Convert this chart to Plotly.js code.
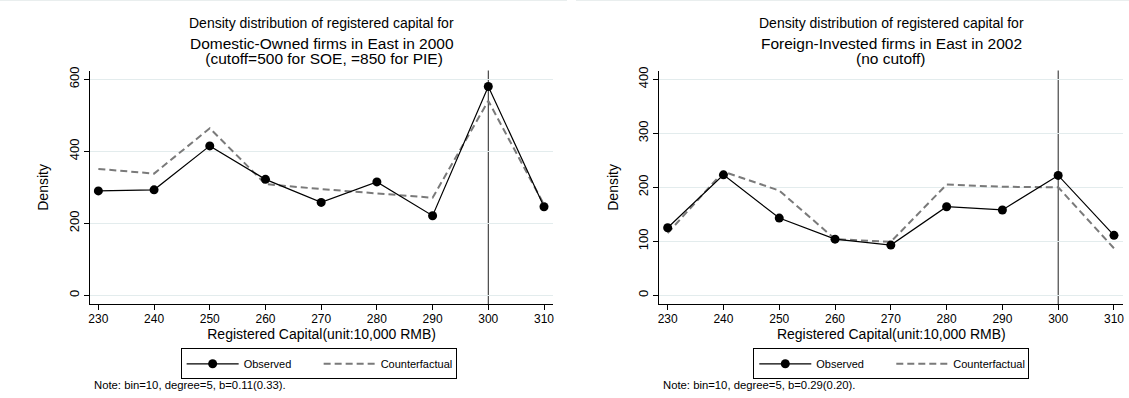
<!DOCTYPE html>
<html>
<head>
<meta charset="utf-8">
<script src="https://cdn.plot.ly/plotly-3.0.1.min.js"></script>
<style>
html,body{margin:0;padding:0;background:#fff;}
#chart{width:1129px;height:398px;}
</style>
</head>
<body>
<div id="chart"></div>
<script>
// ---- data ----
const capitalBins = [230, 240, 250, 260, 270, 280, 290, 300, 310];
const xTickVals = [230, 240, 250, 260, 270, 280, 290, 300, 310];
const cutoffValue = 300;

const domesticObserved = [290, 293, 415, 322, 258, 315, 221, 580, 246];
const domesticCounterfactual = [351, 338, 464, 309, 295, 283, 271, 540, 252];

const foreignObserved = [125, 223, 143, 104, 93, 164, 158, 222, 111];
const foreignCounterfactual = [115, 229, 194, 104, 99, 205, 201, 200, 87];

const leftYTicks = [0, 200, 400, 600];
const rightYTicks = [0, 100, 200, 300, 400];

const leftTitleLines = ["Density distribution of registered capital for",
  "Domestic-Owned firms in East in 2000", " (cutoff=500 for SOE, =850 for PIE)"];
const rightTitleLines = ["Density distribution of registered capital for",
  "Foreign-Invested firms in East in 2002", "(no cutoff)"];
const leftNote = "Note: bin=10, degree=5, b=0.11(0.33).";
const rightNote = "Note: bin=10, degree=5, b=0.29(0.20).";
const xTitle = "Registered Capital(unit:10,000 RMB)";
const yTitle = "Density";
const seriesNames = ["Observed", "Counterfactual"];

// ---- styling ----
const FONT = "Liberation Sans, Arial, Helvetica, sans-serif";
const W = 1129, H = 398;
const px = v => v / W;          // horizontal pixel -> paper
const py = v => 1 - v / H;      // vertical pixel -> paper
const leftDom = [px(90), px(553.3)];
const rightDom = [px(659.3), px(1123.3)];
const yDom = [py(304.3), py(70.5)];
const gridCol = "#e3eced";
const dashCol = "#7a7a7a";

function obsTrace(y, xa, ya, leg, show) {
  return {x: capitalBins, y: y, xaxis: xa, yaxis: ya, type: "scatter", mode: "lines+markers",
    name: seriesNames[0], legend: leg, showlegend: show,
    line: {color: "#000", width: 1.2}, marker: {color: "#000", size: 9}};
}
function cfTrace(y, xa, ya, leg, show) {
  return {x: capitalBins, y: y, xaxis: xa, yaxis: ya, type: "scatter", mode: "lines",
    name: seriesNames[1], legend: leg, showlegend: show,
    line: {color: dashCol, width: 2, dash: "7px,4px"}};
}

const traces = [
  cfTrace(domesticCounterfactual, "x", "y", "legend", true),
  obsTrace(domesticObserved, "x", "y", "legend", true),
  cfTrace(foreignCounterfactual, "x2", "y2", "legend2", true),
  obsTrace(foreignObserved, "x2", "y2", "legend2", true)
];

function xAxis(dom, anchor) {
  return {domain: dom, anchor: anchor, range: [228.5, 311.67], tickvals: xTickVals,
    showgrid: false, zeroline: false, showline: true, linecolor: "#000", linewidth: 1,
    ticks: "outside", ticklen: 5, tickcolor: "#000", tickwidth: 1, ticklabelstandoff: -2,
    tickfont: {family: FONT, size: 12, color: "#000"},
    title: {text: xTitle, font: {family: FONT, size: 14, color: "#000"}, standoff: 0},
    automargin: false, fixedrange: true};
}
function yAxis(range, ticks, anchor) {
  return {domain: yDom, anchor: anchor, range: range, tickvals: ticks,
    showgrid: true, gridcolor: gridCol, gridwidth: 1, zeroline: false,
    showline: true, linecolor: "#000", linewidth: 1,
    ticks: "outside", ticklen: 5, tickcolor: "#000", tickwidth: 1, tickangle: -90,
    tickfont: {family: FONT, size: 13, color: "#000"},
    title: {text: yTitle, font: {family: FONT, size: 14, color: "#000"}, standoff: 14},
    automargin: false, fixedrange: true};
}

function titleAnn(lines, xc) {
  const ys = [22.8, 43.5, 58.5];
  const sizes = [14, 15.5, 15.5];
  return lines.map((t, i) => ({text: t, xref: "paper", yref: "paper", x: xc, y: py(ys[i]),
    xanchor: "center", yanchor: "middle", showarrow: false,
    font: {family: FONT, size: sizes[i], color: "#000"}}));
}
const leftCenter = (leftDom[0] + leftDom[1]) / 2;
const rightCenter = (rightDom[0] + rightDom[1]) / 2;

const annotations = [
  ...titleAnn(leftTitleLines, leftCenter),
  ...titleAnn(rightTitleLines, rightCenter),
  {text: leftNote, xref: "paper", yref: "paper", x: px(91.5), y: py(384.8), xanchor: "left", yanchor: "middle",
    showarrow: false, font: {family: FONT, size: 11.3, color: "#000"}},
  {text: rightNote, xref: "paper", yref: "paper", x: px(661), y: py(384.8), xanchor: "left", yanchor: "middle",
    showarrow: false, font: {family: FONT, size: 11.3, color: "#000"}}
];

function legendCfg(xc) {
  return {orientation: "h", x: xc, xanchor: "center", y: py(348.3), yanchor: "top",
    bordercolor: "#000", borderwidth: 1, bgcolor: "#fff",
    font: {family: FONT, size: 11, color: "#000"}, itemwidth: 52, entrywidth: 70,
    traceorder: "reversed", itemclick: false, itemdoubleclick: false};
}

const layout = {
  width: W, height: H, margin: {l: 0, r: 0, t: 0, b: 0},
  paper_bgcolor: "#fff", plot_bgcolor: "#fff",
  font: {family: FONT, color: "#000"},
  xaxis: xAxis(leftDom, "y"), yaxis: yAxis([-25, 624.4], leftYTicks, "x"),
  xaxis2: xAxis(rightDom, "y2"), yaxis2: yAxis([-16.7, 416.3], rightYTicks, "x2"),
  legend: legendCfg(leftCenter - px(3)), legend2: legendCfg(rightCenter),
  annotations: annotations,
  shapes: [
    {type: "line", xref: "x", yref: "y domain", x0: cutoffValue, x1: cutoffValue, y0: 0, y1: 1,
      line: {color: "#222222", width: 1}, layer: "below"},
    {type: "line", xref: "x2", yref: "y2 domain", x0: cutoffValue, x1: cutoffValue, y0: 0, y1: 1,
      line: {color: "#222222", width: 1}, layer: "below"},
    {type: "line", xref: "paper", yref: "paper", x0: 0, x1: px(567), y0: py(0.5), y1: py(0.5),
      line: {color: "#e9eeee", width: 1}},
    {type: "line", xref: "paper", yref: "paper", x0: px(576), x1: 1, y0: py(0.5), y1: py(0.5),
      line: {color: "#e9eeee", width: 1}}
  ],
  showlegend: true
};

Plotly.newPlot("chart", traces, layout, {staticPlot: true, displayModeBar: false});
</script>
</body>
</html>
